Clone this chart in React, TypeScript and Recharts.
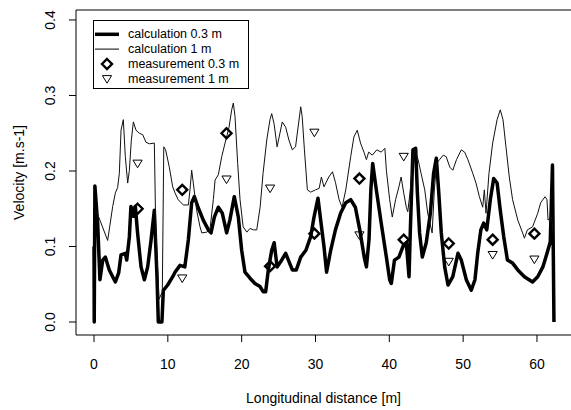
import React from 'react';
import { ComposedChart, Line, Scatter, XAxis, YAxis, ReferenceLine, Legend } from 'recharts';

// calculation 0.3 m : [distance (m), velocity (m/s)]
const calc03: [number, number][] = [
  [0.0, 0.10], [0.03, 0.0], [0.12, 0.18], [0.5, 0.13], [0.8, 0.056], [1.18, 0.082], [1.53, 0.086],
  [2.07, 0.069], [2.53, 0.06], [2.89, 0.053], [3.34, 0.065], [3.66, 0.089], [4.24, 0.091], [4.43, 0.082],
  [4.79, 0.113], [5.0, 0.153], [5.33, 0.14], [5.6, 0.153], [5.9, 0.118], [6.37, 0.073], [6.82, 0.056],
  [7.27, 0.073], [7.72, 0.108], [8.17, 0.148], [8.53, 0.06], [8.71, 0.0], [9.2, 0.0], [9.39, 0.042],
  [9.98, 0.049], [10.66, 0.06], [10.97, 0.066], [11.65, 0.075], [12.3, 0.073], [12.78, 0.109],
  [13.23, 0.158], [13.59, 0.166], [14.13, 0.151], [14.8, 0.135], [15.49, 0.122], [15.85, 0.118],
  [16.3, 0.139], [16.84, 0.152], [17.38, 0.144], [17.97, 0.118], [18.4, 0.135], [19.0, 0.166],
  [19.55, 0.139], [20.0, 0.095], [20.45, 0.066], [21.13, 0.058], [21.8, 0.051], [22.48, 0.047],
  [22.93, 0.04], [23.25, 0.04], [23.61, 0.069], [24.07, 0.095], [24.4, 0.105], [24.8, 0.073],
  [25.3, 0.08], [25.96, 0.091], [26.86, 0.069], [27.4, 0.069], [28.0, 0.086], [28.7, 0.095],
  [29.35, 0.113], [29.8, 0.139], [30.34, 0.164], [30.7, 0.135], [31.15, 0.1], [31.5, 0.066],
  [32.06, 0.095], [32.7, 0.122], [33.4, 0.144], [34.1, 0.158], [34.77, 0.162], [35.4, 0.152],
  [36.0, 0.122], [36.6, 0.086], [36.9, 0.073], [37.25, 0.109], [37.5, 0.175], [37.75, 0.21],
  [38.24, 0.175], [38.9, 0.131], [39.6, 0.086], [40.05, 0.056], [40.27, 0.051], [40.7, 0.082],
  [41.3, 0.086], [41.85, 0.1], [42.3, 0.105], [42.67, 0.06], [42.85, 0.122], [43.2, 0.228],
  [43.57, 0.23], [43.8, 0.171], [44.1, 0.118], [44.47, 0.086], [45.0, 0.105], [45.56, 0.144],
  [46.0, 0.197], [46.37, 0.217], [46.7, 0.171], [47.04, 0.118], [47.5, 0.073], [47.95, 0.049],
  [48.6, 0.06], [49.3, 0.091], [49.75, 0.082], [50.43, 0.056], [51.1, 0.042], [51.6, 0.056],
  [51.97, 0.091], [52.4, 0.122], [52.78, 0.131], [53.2, 0.122], [53.68, 0.162], [54.14, 0.19],
  [54.6, 0.184], [55.03, 0.148], [55.5, 0.113], [56.0, 0.082], [56.7, 0.078], [57.4, 0.069],
  [58.3, 0.06], [59.4, 0.053], [60.1, 0.06], [60.8, 0.073], [61.36, 0.091], [61.8, 0.106],
  [62.1, 0.208], [62.3, 0.0],
];

// calculation 1 m : [distance (m), velocity (m/s)]
const calc1: [number, number][] = [
  [0.1, 0.145], [0.4, 0.145], [0.6, 0.14], [1.85, 0.108], [2.53, 0.153], [2.89, 0.171], [3.2, 0.178],
  [3.43, 0.197], [3.66, 0.254], [3.97, 0.268], [4.24, 0.219], [4.56, 0.184], [4.79, 0.201],
  [5.05, 0.24], [5.33, 0.265], [5.69, 0.254], [6.14, 0.25], [6.6, 0.248], [7.04, 0.238], [7.5, 0.236],
  [8.17, 0.237], [8.35, 0.13], [8.8, 0.03], [9.25, 0.04], [9.45, 0.232], [9.7, 0.228], [10.2, 0.205],
  [10.66, 0.179], [10.97, 0.171], [11.4, 0.162], [12.1, 0.155], [12.78, 0.155], [13.0, 0.175],
  [13.23, 0.201], [13.45, 0.184], [13.9, 0.148], [14.36, 0.126], [14.6, 0.118], [15.27, 0.119],
  [15.7, 0.122], [16.16, 0.162], [16.4, 0.188], [16.84, 0.195], [17.3, 0.219], [17.75, 0.237],
  [18.29, 0.258], [18.65, 0.281], [18.87, 0.29], [19.1, 0.272], [19.46, 0.21], [19.78, 0.162],
  [20.2, 0.126], [20.7, 0.119], [21.13, 0.124], [21.6, 0.122], [22.04, 0.122], [22.5, 0.152],
  [22.9, 0.197], [23.4, 0.241], [23.84, 0.268], [24.07, 0.276], [24.4, 0.262], [24.8, 0.232],
  [25.5, 0.265], [25.96, 0.258], [26.4, 0.241], [26.86, 0.228], [27.3, 0.232], [28.0, 0.285],
  [28.2, 0.272], [28.5, 0.228], [28.9, 0.175], [29.35, 0.172], [30.0, 0.175], [30.5, 0.177],
  [30.8, 0.192], [31.15, 0.179], [31.8, 0.192], [32.3, 0.199], [32.7, 0.185], [33.2, 0.162],
  [33.6, 0.152], [34.1, 0.175], [34.77, 0.219], [35.2, 0.245], [35.66, 0.254], [36.1, 0.237],
  [36.6, 0.224], [36.9, 0.215], [37.2, 0.225], [37.7, 0.221], [38.3, 0.228], [38.9, 0.225],
  [39.4, 0.23], [39.6, 0.201], [40.05, 0.162], [40.4, 0.139], [40.85, 0.162], [41.3, 0.179],
  [41.6, 0.192], [41.95, 0.171], [42.3, 0.152], [42.5, 0.146], [42.85, 0.175], [43.1, 0.205],
  [43.4, 0.23], [43.9, 0.215], [44.3, 0.197], [44.8, 0.175], [45.2, 0.144], [45.8, 0.118],
  [46.1, 0.175], [46.4, 0.21], [46.8, 0.215], [47.3, 0.221], [47.7, 0.219], [48.2, 0.205],
  [48.6, 0.201], [49.1, 0.215], [49.75, 0.228], [50.2, 0.225], [50.65, 0.215], [51.3, 0.197],
  [51.74, 0.184], [52.2, 0.166], [52.65, 0.152], [52.87, 0.175], [53.1, 0.144], [53.5, 0.197],
  [54.0, 0.237], [54.6, 0.268], [55.03, 0.281], [55.4, 0.268], [55.8, 0.232], [56.25, 0.192],
  [56.7, 0.162], [57.4, 0.135], [58.06, 0.118], [58.3, 0.111], [58.7, 0.122], [59.4, 0.126],
  [60.1, 0.144], [60.5, 0.158], [61.1, 0.166], [61.36, 0.162], [61.5, 0.135], [61.96, 0.139],
  [62.2, 0.118],
];

const measDist = [5.9, 11.95, 17.95, 23.85, 29.85, 35.95, 41.95, 48.05, 54.0, 59.65];
const meas03 = [0.15, 0.175, 0.25, 0.074, 0.117, 0.19, 0.109, 0.104, 0.109, 0.117];
const meas1 = [0.21, 0.058, 0.189, 0.177, 0.251, 0.115, 0.219, 0.08, 0.089, 0.083];

const xTicks = [0, 10, 20, 30, 40, 50, 60];
const yTicks = [0, 0.1, 0.2, 0.3, 0.4];
const legendLabels = ['calculation 0.3 m', 'calculation 1 m', 'measurement 0.3 m', 'measurement 1 m'];
const xTitle = 'Longitudinal distance [m]';
const yTitle = 'Velocity [m.s-1]';

const X_DOMAIN: [number, number] = [-2.44, 64.61];
const Y_DOMAIN: [number, number] = [-0.0172, 0.4132];

const toPts = (arr: [number, number][]) => arr.map(([x, y]) => ({ x, y }));
const calc03Data = toPts(calc03);
const calc1Data = toPts(calc1);
const meas03Data = measDist.map((x, i) => ({ x, y: meas03[i] }));
const meas1Data = measDist.map((x, i) => ({ x, y: meas1[i] }));

const FONT = '"Liberation Sans", Arial, sans-serif';

const Diamond = (p: any) => {
  const { cx, cy } = p;
  const r = 5;
  return (
    <polygon
      points={`${cx},${cy - r} ${cx + r},${cy} ${cx},${cy + r} ${cx - r},${cy}`}
      fill="none"
      stroke="#000"
      strokeWidth={2.4}
    />
  );
};

const TriDown = (p: any) => {
  const { cx, cy } = p;
  const w = 4.6;
  return (
    <polygon
      points={`${cx - w},${cy - 3.3} ${cx + w},${cy - 3.3} ${cx},${cy + 4.3}`}
      fill="none"
      stroke="#000"
      strokeWidth={1}
    />
  );
};

const YTick = (p: any) => (
  <text
    x={p.x}
    y={p.y}
    transform={`rotate(-90 ${p.x} ${p.y})`}
    textAnchor="middle"
    dominantBaseline="central"
    fontSize={14}
    fill="#000"
    fontFamily={FONT}
  >
    {Number(p.payload.value).toFixed(1)}
  </text>
);

const LegendBox = () => {
  const rows = [14.3, 29.1, 44, 58.9];
  return (
    <svg width={156} height={69} style={{ display: 'block', fontFamily: FONT }}>
      <rect x={0.5} y={0.5} width={155} height={68} fill="#fff" stroke="#000" />
      <line x1={2} x2={26} y1={rows[0]} y2={rows[0]} stroke="#000" strokeWidth={3.5} />
      <line x1={2} x2={26} y1={rows[1]} y2={rows[1]} stroke="#000" strokeWidth={1} />
      <Diamond cx={14} cy={rows[2]} />
      <TriDown cx={14} cy={rows[3]} />
      {legendLabels.map((t, i) => (
        <text key={t} x={35} y={rows[i]} dominantBaseline="central" fontSize={12.5} fill="#000">
          {t}
        </text>
      ))}
    </svg>
  );
};

export default function App() {
  return (
    <div style={{ position: 'absolute', left: 0, top: 0, fontFamily: FONT, background: '#fff' }}>
      <ComposedChart width={571} height={410} margin={{ top: 10, right: 0, bottom: 0, left: 0 }}>
        <XAxis
          type="number"
          dataKey="x"
          domain={X_DOMAIN}
          allowDataOverflow
          ticks={xTicks}
          interval={0}
          height={75}
          tickSize={7}
          tickMargin={17}
          axisLine={{ stroke: '#000' }}
          tickLine={{ stroke: '#000' }}
          tick={{ fill: '#000', fontSize: 14 }}
          label={{ value: xTitle, position: 'insideBottom', offset: 7, fill: '#000', fontSize: 14 }}
        />
        <YAxis
          type="number"
          dataKey="y"
          domain={Y_DOMAIN}
          allowDataOverflow
          ticks={yTicks}
          interval={0}
          width={76}
          tickSize={7}
          tickMargin={19}
          axisLine={{ stroke: '#000' }}
          tickLine={{ stroke: '#000' }}
          tick={<YTick />}
          label={{ value: yTitle, angle: -90, position: 'center', dx: -19, fill: '#000', fontSize: 14 }}
        />
        <ReferenceLine y={Y_DOMAIN[1]} stroke="#000" strokeWidth={1} ifOverflow="visible" />
        <Line
          data={calc03Data}
          dataKey="y"
          type="linear"
          stroke="#000"
          strokeWidth={3.5}
          strokeLinejoin="round"
          dot={false}
          activeDot={false}
          isAnimationActive={false}
          name={legendLabels[0]}
        />
        <Line
          data={calc1Data}
          dataKey="y"
          type="linear"
          stroke="#111"
          strokeWidth={1}
          dot={false}
          activeDot={false}
          isAnimationActive={false}
          name={legendLabels[1]}
        />
        <Scatter data={meas03Data} dataKey="y" shape={<Diamond />} isAnimationActive={false} name={legendLabels[2]} />
        <Scatter data={meas1Data} dataKey="y" shape={<TriDown />} isAnimationActive={false} name={legendLabels[3]} />
        <Legend
          layout="vertical"
          align="center"
          verticalAlign="middle"
          wrapperStyle={{ left: 93, top: 20, width: 156, height: 69 }}
          content={() => <LegendBox />}
        />
      </ComposedChart>
    </div>
  );
}
